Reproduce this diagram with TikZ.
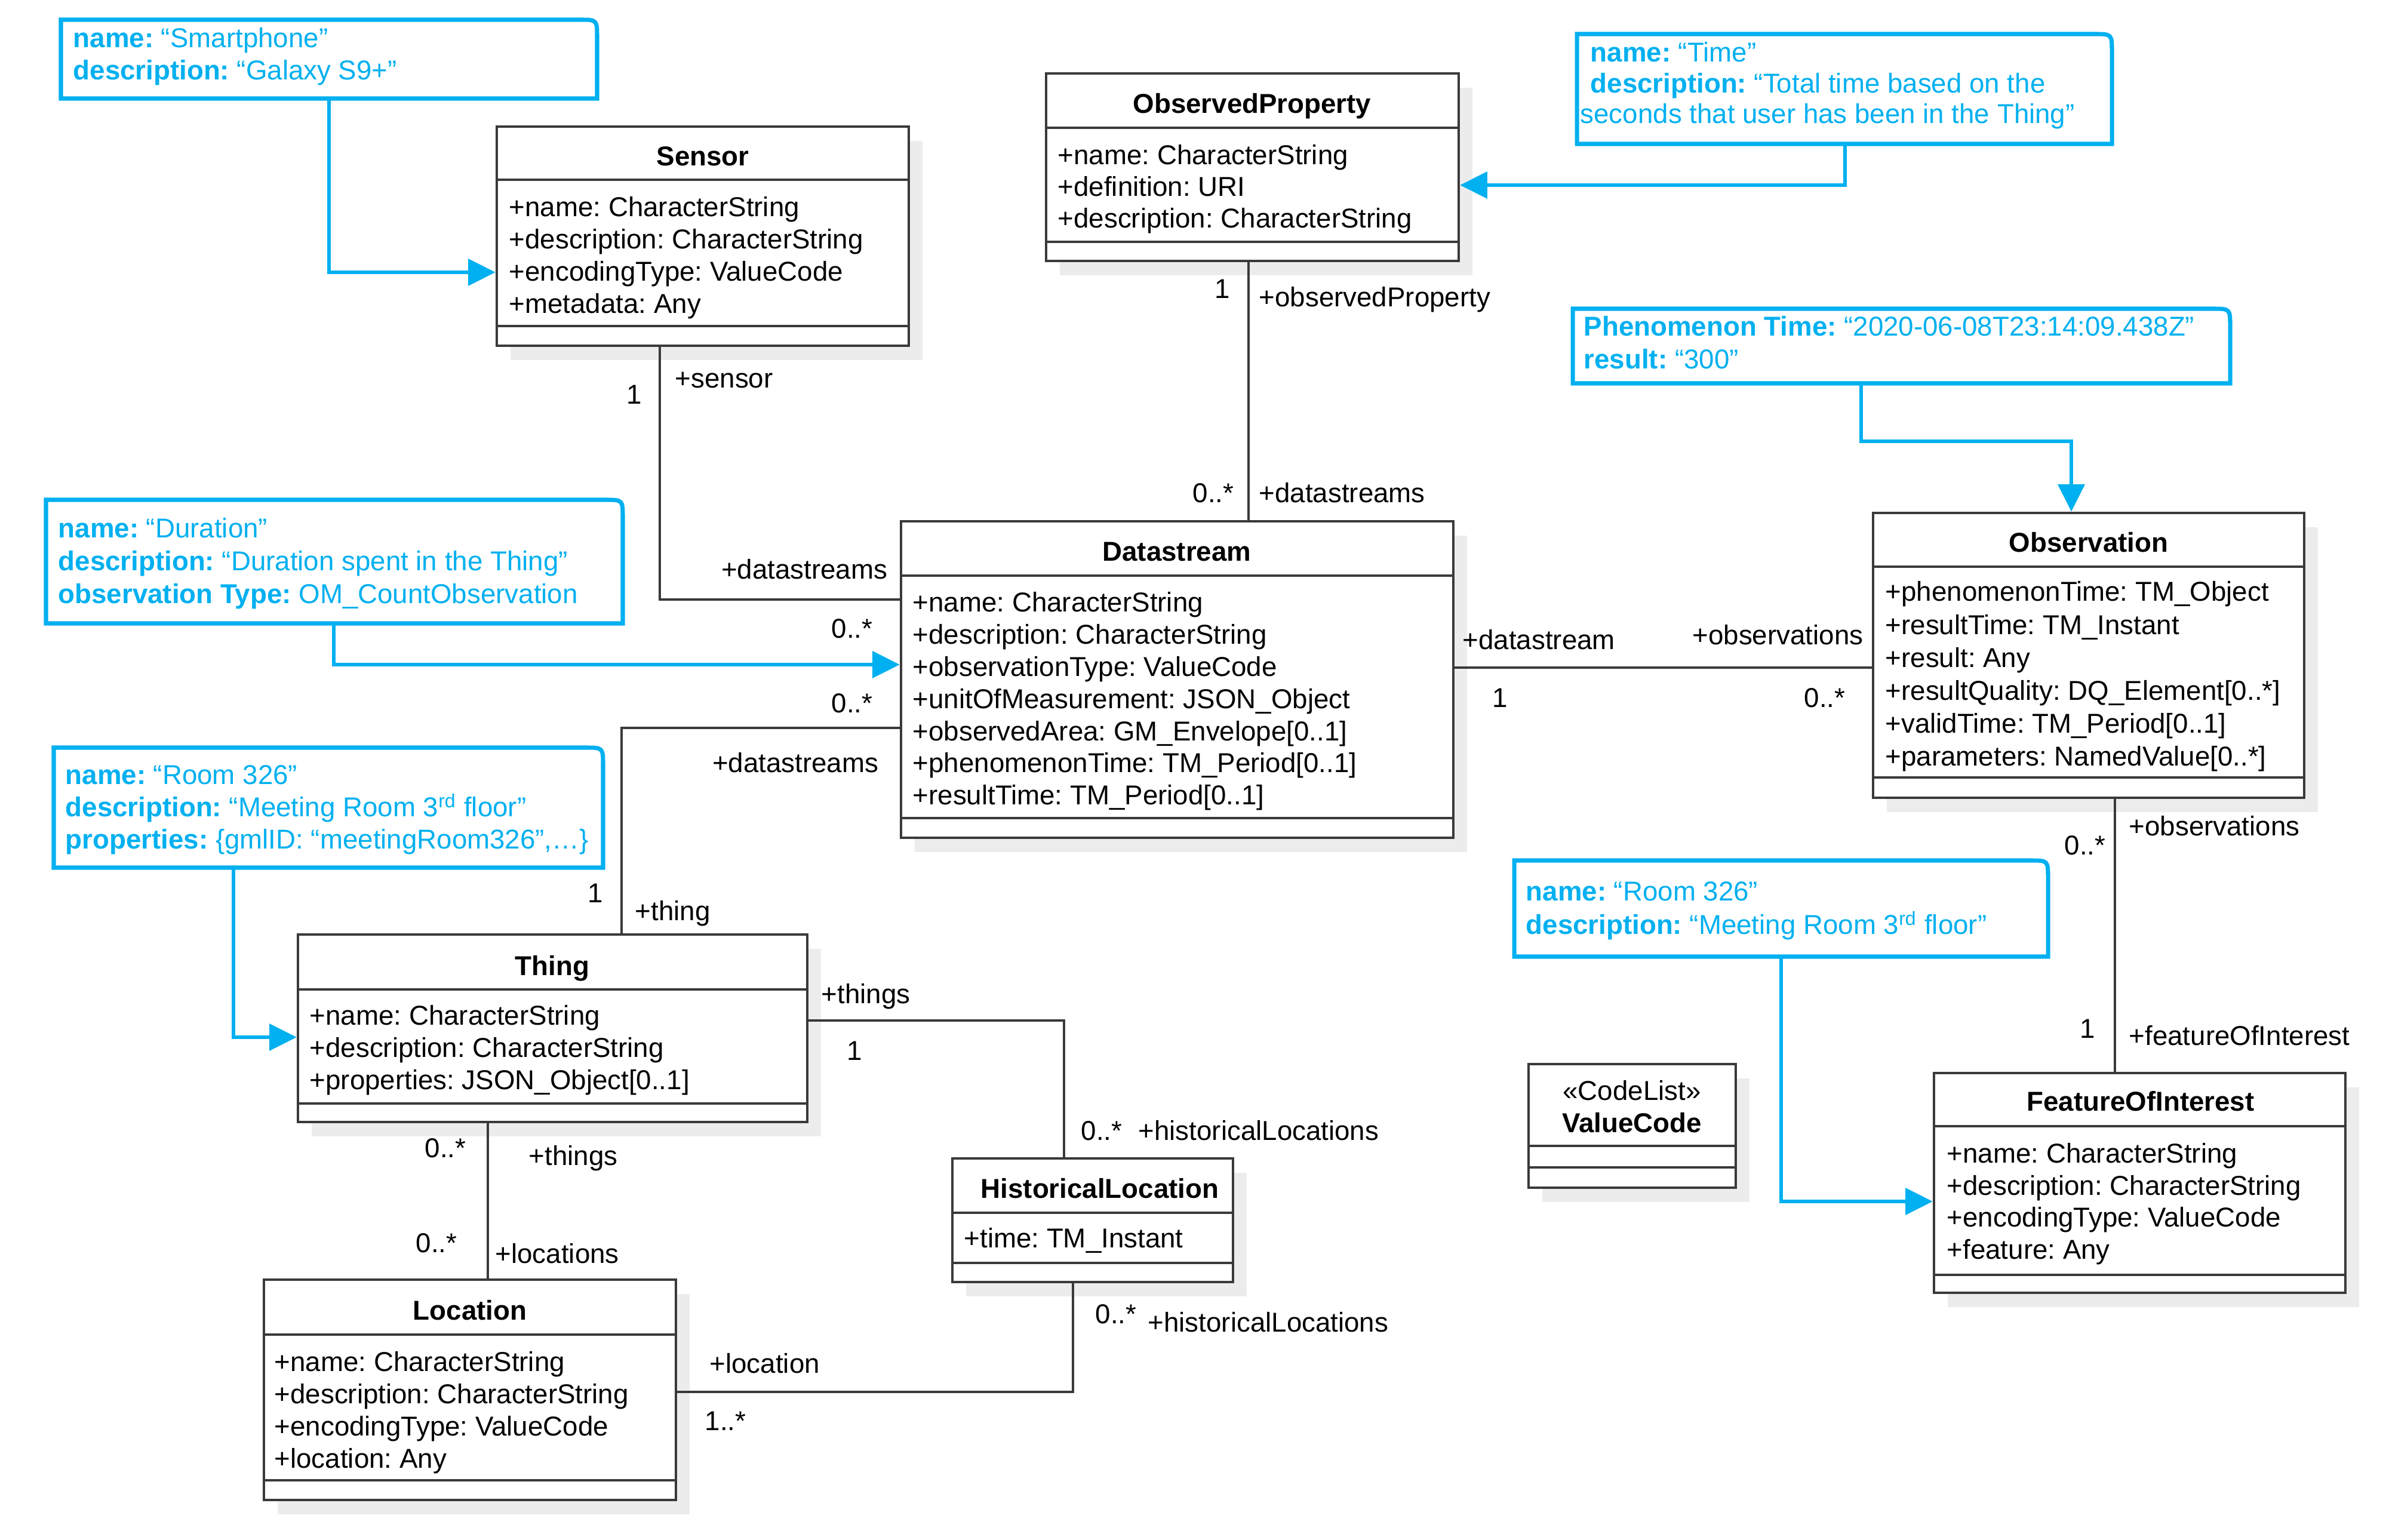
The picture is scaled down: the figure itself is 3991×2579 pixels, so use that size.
\documentclass[tikz,border=0pt]{standalone}
\usepackage{fontspec}
\setmainfont{Liberation Sans}
\usetikzlibrary{arrows.meta,shadows}
\frenchspacing
\definecolor{notec}{HTML}{00B0F0}
\definecolor{linec}{HTML}{3A3A3A}
\definecolor{shadc}{HTML}{ECECEC}
\tikzset{
  txt/.style={inner sep=0pt, font=\fontsize{13pt}{15.5pt}\selectfont, text height=9.6pt, text depth=2.8pt},
  attr/.style={txt, anchor=west},
  ttl/.style={txt, font=\fontsize{13pt}{15.5pt}\selectfont\bfseries},
  lbl/.style={txt},
  ntxt/.style={txt, anchor=west, text=notec},
  classbox/.style={draw=linec, line width=1.2pt, fill=white, inner sep=0pt,
    drop shadow={shadow xshift=2.3mm, shadow yshift=-2.4mm, fill=shadc, opacity=1}},
  classline/.style={draw=linec, line width=1.2pt},
  notebox/.style={draw=notec, line width=2pt, line join=miter},
  notearrow/.style={draw=notec, line width=1.9pt, -{Triangle[length=13pt,width=12.5pt]}},
  assoc/.style={draw=linec, line width=0.9pt},
  holder/.style={inner sep=0pt, outer sep=0pt}
}
\newcommand{\umlclass}[7]{%
  \node[classbox, minimum width={(#4-#2)*0.1mm}, minimum height={(#5-#3)*0.1mm}] (#1) at ({(#2+#4)/2},{(#3+#5)/2}) {};
  \draw[classline] (#2,#6) -- (#4,#6);
  \draw[classline] (#2,#7) -- (#4,#7);
}
\newcommand{\umlnote}[5]{%
  \node[holder, minimum width={(#4-#2)*0.1mm}, minimum height={(#5-#3)*0.1mm}] (#1) at ({(#2+#4)/2},{(#3+#5)/2}) {};
  \draw[notebox] (#2,#3) -- ({#4-30},#3) .. controls (#4,#3) .. (#4,{#3+30}) -- (#4,#5) -- (#2,#5) -- cycle;
}
\begin{document}
\frenchspacing
\begin{tikzpicture}[x=0.1mm, y=-0.1mm]
\useasboundingbox[fill=white] (0,0) rectangle (3991,2579);

% ---------- classes ----------
\umlclass{sensor}{832}{212}{1522}{579}{301}{546}
\node[ttl] (sensor-t) at (1177,266) {Sensor};
\foreach \t [count=\i from 0] in {+name: CharacterString,+description: CharacterString,+encodingType: ValueCode,+metadata: Any}
  \node[attr] (sensor-a\i) at (852,{351+53.7*\i}) {\t};

\umlclass{op}{1752}{123}{2443}{437}{214}{405}
\node[ttl] (op-t) at (2097,178) {ObservedProperty};
\foreach \t [count=\i from 0] in {+name: CharacterString,+definition: URI,+description: CharacterString}
  \node[attr] (op-a\i) at (1771,{264+53*\i}) {\t};

\umlclass{ds}{1509}{873}{2434}{1403}{964}{1370}
\node[ttl] (ds-t) at (1971,928) {Datastream};
\foreach \t [count=\i from 0] in {+name: CharacterString,+description: CharacterString,+observationType: ValueCode,+unitOfMeasurement: JSON\_Object,+observedArea: GM\_Envelope[0..1],+phenomenonTime: TM\_Period[0..1],+resultTime: TM\_Period[0..1]}
  \node[attr] (ds-a\i) at (1528,{1013+53.8*\i}) {\t};

\umlclass{obs}{3137}{859}{3859}{1336}{949}{1302}
\node[ttl] (obs-t) at (3498,913) {Observation};
\foreach \t [count=\i from 0] in {+phenomenonTime: TM\_Object,+resultTime: TM\_Instant,+result: Any,+resultQuality: DQ\_Element[0..*],+validTime: TM\_Period[0..1],+parameters: NamedValue[0..*]}
  \node[attr] (obs-a\i) at (3157,{995+55.2*\i}) {\t};

\umlclass{thing}{499}{1565}{1352}{1879}{1657}{1848}
\node[ttl] (thing-t) at (925,1622) {Thing};
\foreach \t [count=\i from 0] in {+name: CharacterString,+description: CharacterString,+properties: JSON\_Object[0..1]}
  \node[attr] (thing-a\i) at (518,{1705+54*\i}) {\t};

\umlclass{hl}{1595}{1940}{2065}{2147}{2031}{2115}
\node[ttl] (hl-t) at (1842,1995) {HistoricalLocation};
\node[attr] (hl-a0) at (1614,2078) {+time: TM\_Instant};

\umlclass{loc}{442}{2143}{1132}{2512}{2235}{2479}
\node[ttl] (loc-t) at (787,2199) {Location};
\foreach \t [count=\i from 0] in {+name: CharacterString,+description: CharacterString,+encodingType: ValueCode,+location: Any}
  \node[attr] (loc-a\i) at (459,{2285+53.7*\i}) {\t};

\umlclass{foi}{3239}{1797}{3928}{2165}{1886}{2135}
\node[ttl] (foi-t) at (3585,1849) {FeatureOfInterest};
\foreach \t [count=\i from 0] in {+name: CharacterString,+description: CharacterString,+encodingType: ValueCode,+feature: Any}
  \node[attr] (foi-a\i) at (3260,{1936+53.5*\i}) {\t};

\umlclass{vc}{2560}{1782}{2907}{1989}{1919}{1955}
\node[lbl] (vc-s) at (2733,1831) {«CodeList»};
\node[ttl] (vc-t) at (2733,1885) {ValueCode};

% ---------- notes ----------
\umlnote{n1}{102}{33}{1000}{165}
\node[ntxt] (n1-a) at (122,68) {\textbf{name:} “Smartphone”};
\node[ntxt] (n1-b) at (122,122) {\textbf{description:} “Galaxy S9+”};

\umlnote{n2}{2641}{57}{3537}{241}
\node[ntxt] (n2-a) at (2663,92) {\textbf{name:} “Time”};
\node[ntxt] (n2-b) at (2663,144) {\textbf{description:} “Total time based on the};
\node[ntxt] (n2-c) at (2646,195) {seconds that user has been in the Thing”};

\umlnote{n3}{2634}{517}{3735}{642}
\node[ntxt] (n3-a) at (2652,551) {\textbf{Phenomenon Time:} “2020-06-08T23:14:09.438Z”};
\node[ntxt] (n3-b) at (2652,606) {\textbf{result:} “300”};

\umlnote{n4}{77}{837}{1043}{1044}
\node[ntxt] (n4-a) at (97,889) {\textbf{name:} “Duration”};
\node[ntxt] (n4-b) at (97,944) {\textbf{description:} “Duration spent in the Thing”};
\node[ntxt] (n4-c) at (97,999) {\textbf{observation Type:} OM\_CountObservation};

\umlnote{n5}{90}{1252}{1010}{1453}
\node[ntxt] (n5-a) at (109,1302) {\textbf{name:} “Room 326”};
\node[ntxt] (n5-b) at (109,1356) {\textbf{description:} “Meeting Room 3\textsuperscript{rd} floor”};
\node[ntxt] (n5-c) at (109,1410) {\textbf{properties:} \{gmlID: “meetingRoom326”,…\}};

\umlnote{n6}{2536}{1441}{3430}{1602}
\node[ntxt] (n6-a) at (2555,1497) {\textbf{name:} “Room 326”};
\node[ntxt] (n6-b) at (2555,1553) {\textbf{description:} “Meeting Room 3\textsuperscript{rd} floor”};

% ---------- note connectors ----------
\coordinate (c1) at (551,456);
\draw[notearrow] (n1.south -| c1) |- (sensor.west |- c1);
\coordinate (c2) at (3090,310);
\draw[notearrow] (n2.south -| c2) |- (op.east |- c2);
\coordinate (c3a) at (3117,739);
\coordinate (c3b) at (3469,739);
\draw[notearrow] (n3.south -| c3a) -- (c3a) -- (c3b) -- (obs.north -| c3b);
\coordinate (c4) at (559,1113);
\draw[notearrow] (n4.south -| c4) |- (ds.west |- c4);
\coordinate (c5) at (391,1737);
\draw[notearrow] (n5.south -| c5) |- (thing.west |- c5);
\coordinate (c6) at (2983,2012);
\draw[notearrow] (n6.south -| c6) |- (foi.west |- c6);

% ---------- associations ----------
\coordinate (j1) at (1105,1004);
\draw[assoc] (sensor.south -| j1) |- (ds.west |- j1);
\coordinate (j2) at (2091,0);
\draw[assoc] (op.south -| j2) -- (ds.north -| j2);
\coordinate (j3) at (1041,1219);
\draw[assoc] (ds.west |- j3) -| (thing.north -| j3);
\coordinate (j4) at (0,1118);
\draw[assoc] (ds.east |- j4) -- (obs.west |- j4);
\coordinate (j5) at (3542,0);
\draw[assoc] (obs.south -| j5) -- (foi.north -| j5);
\coordinate (j6) at (1782,1709);
\draw[assoc] (thing.east |- j6) -| (hl.north -| j6);
\coordinate (j7) at (817,0);
\draw[assoc] (thing.south -| j7) -- (loc.north -| j7);
\coordinate (j8) at (1797,2331);
\draw[assoc] (hl.south -| j8) |- (loc.east |- j8);

% ---------- labels ----------
\node[lbl] (l1) at (1062,665) {1};
\node[lbl,anchor=west] (l2) at (1130,638) {+sensor};
\node[lbl,anchor=east] (l3) at (1487,958) {+datastreams};
\node[lbl,anchor=east] (l4) at (1462,1057) {0..*};
\node[lbl,anchor=east] (l5) at (1462,1182) {0..*};
\node[lbl,anchor=east] (l6) at (1472,1282) {+datastreams};
\node[lbl] (l7) at (997,1500) {1};
\node[lbl,anchor=west] (l8) at (1063,1530) {+thing};

\node[lbl] (l9) at (2047,488) {1};
\node[lbl,anchor=west] (l10) at (2108,502) {+observedProperty};
\node[lbl,anchor=east] (l11) at (2067,830) {0..*};
\node[lbl,anchor=west] (l12) at (2108,830) {+datastreams};

\node[lbl,anchor=west] (l13) at (2449,1076) {+datastream};
\node[lbl] (l14) at (2512,1173) {1};
\node[lbl,anchor=east] (l15) at (3121,1068) {+observations};
\node[lbl,anchor=east] (l16) at (3091,1173) {0..*};

\node[lbl,anchor=east] (l17) at (3527,1420) {0..*};
\node[lbl,anchor=west] (l18) at (3565,1388) {+observations};
\node[lbl] (l19) at (3496,1727) {1};
\node[lbl,anchor=west] (l20) at (3565,1739) {+featureOfInterest};

\node[lbl,anchor=west] (l21) at (1375,1669) {+things};
\node[lbl] (l22) at (1431,1764) {1};
\node[lbl,anchor=west] (l23) at (1810,1898) {0..*};
\node[lbl,anchor=west] (l24) at (1906,1898) {+historicalLocations};

\node[lbl,anchor=east] (l25) at (781,1927) {0..*};
\node[lbl,anchor=west] (l26) at (885,1940) {+things};
\node[lbl,anchor=east] (l27) at (766,2086) {0..*};
\node[lbl,anchor=west] (l28) at (829,2104) {+locations};

\node[lbl,anchor=west] (l29) at (1834,2205) {0..*};
\node[lbl,anchor=west] (l30) at (1922,2219) {+historicalLocations};
\node[lbl,anchor=west] (l31) at (1188,2288) {+location};
\node[lbl,anchor=west] (l32) at (1180,2384) {1..*};
\end{tikzpicture}
\end{document}
